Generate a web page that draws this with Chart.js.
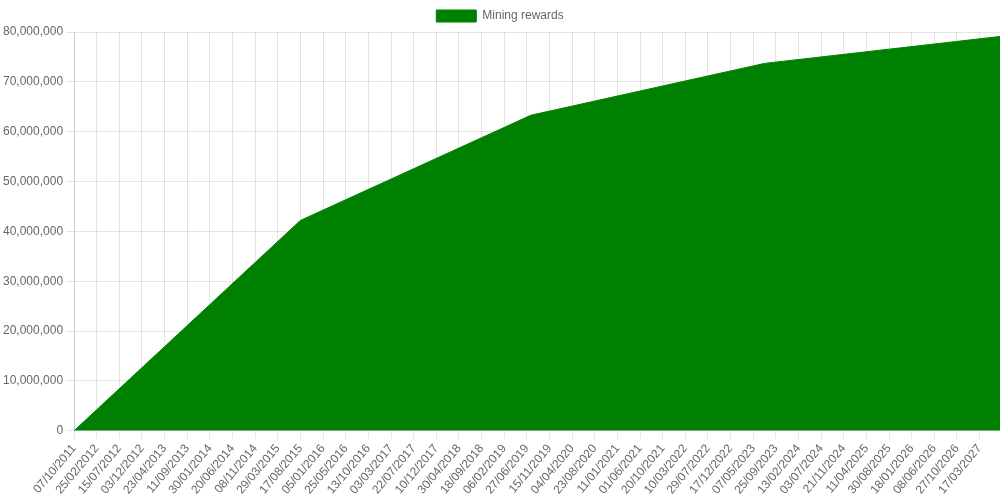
<!DOCTYPE html>
<html>
<head>
  <meta name="viewport" content="width=device-width, initial-scale=1.0">
  <title>Mining rewards</title>
  <script src="https://cdn.jsdelivr.net/npm/chart.js"></script>
  <style>
    body {
      margin: 0;
      padding: 0;
    }
    #wrap {
      width: 1000px;
      height: 500px;
    }
  </style>
</head>
<body>
  <div id="wrap"><canvas id="myChart"></canvas></div>

  <script>
    // tick labels on the x axis (every 141 days)
    const tickDates = [
      '07/10/2011', '25/02/2012', '15/07/2012', '03/12/2012', '23/04/2013',
      '11/09/2013', '30/01/2014', '20/06/2014', '08/11/2014', '29/03/2015',
      '17/08/2015', '05/01/2016', '25/05/2016', '13/10/2016', '03/03/2017',
      '22/07/2017', '10/12/2017', '30/04/2018', '18/09/2018', '06/02/2019',
      '27/06/2019', '15/11/2019', '04/04/2020', '23/08/2020', '11/01/2021',
      '01/06/2021', '20/10/2021', '10/03/2022', '29/07/2022', '17/12/2022',
      '07/05/2023', '25/09/2023', '13/02/2024', '03/07/2024', '21/11/2024',
      '11/04/2025', '30/08/2025', '18/01/2026', '08/06/2026', '27/10/2026',
      '17/03/2027'
    ];

    // dates where the curve changes slope, and the totals there
    const pointDates = ['07/10/2011', '17/08/2015', '22/07/2019', '16/07/2023', '22/07/2027'];
    const rewards = [0, 42200000, 63300000, 73700000, 79100000];

    function dayNumber(s) {
      const p = s.split('/');
      return Date.UTC(+p[2], +p[1] - 1, +p[0]) / 86400000;
    }
    const day0 = dayNumber(tickDates[0]);
    const sinceStart = s => dayNumber(s) - day0;

    const ctx = document.getElementById('myChart').getContext('2d');
    const chart = new Chart(ctx, {
      type: 'line',
      data: {
        datasets: [{
          label: 'Mining rewards',
          data: pointDates.map((d, i) => ({ x: sinceStart(d), y: rewards[i] })),
          backgroundColor: 'green',
          borderColor: 'green',
          borderWidth: 1,
          pointRadius: 0,
          fill: 'origin',
          tension: 0
        }]
      },
      options: {
        responsive: true,
        maintainAspectRatio: false,
        animation: false,
        scales: {
          x: {
            type: 'linear',
            min: 0,
            max: sinceStart(pointDates[pointDates.length - 1]),
            afterBuildTicks: axis => {
              axis.ticks = tickDates.map(d => ({ value: sinceStart(d) }));
            },
            ticks: {
              autoSkip: false,
              maxRotation: 50,
              minRotation: 50,
              callback: (value, index) => tickDates[index]
            }
          },
          y: {
            min: 0,
            max: 80000000,
            ticks: {
              stepSize: 10000000
            }
          }
        }
      }
    });
  </script>
</body>
</html>
